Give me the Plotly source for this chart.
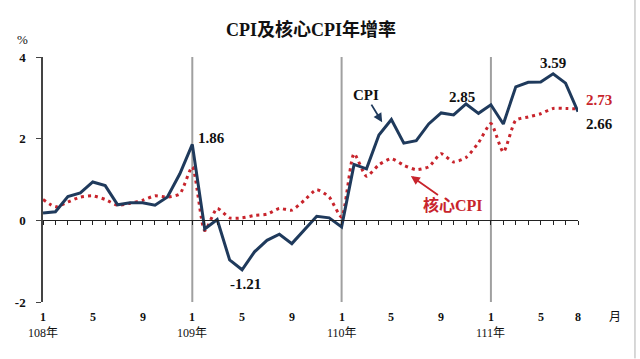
import plotly.graph_objects as go

# Data: monthly year-over-year growth (%), 108年1月 to 111年8月
cpi = [0.18, 0.21, 0.58, 0.67, 0.94, 0.85, 0.38, 0.43, 0.43, 0.37, 0.57, 1.14,
       1.86, -0.21, 0.02, -0.97, -1.21, -0.77, -0.49, -0.34, -0.57, -0.24, 0.10, 0.06,
       -0.16, 1.37, 1.26, 2.09, 2.47, 1.89, 1.95, 2.36, 2.63, 2.58, 2.85, 2.62,
       2.83, 2.36, 3.27, 3.38, 3.39, 3.59, 3.36, 2.66]
core_cpi = [0.51, 0.33, 0.45, 0.57, 0.60, 0.51, 0.37, 0.42, 0.49, 0.60, 0.57, 0.65,
            1.31, -0.25, 0.29, 0.06, 0.06, 0.12, 0.15, 0.29, 0.25, 0.49, 0.75, 0.57,
            0.08, 1.63, 1.08, 1.36, 1.51, 1.35, 1.24, 1.31, 1.63, 1.43, 1.54, 1.90,
            2.37, 1.67, 2.45, 2.53, 2.61, 2.74, 2.74, 2.73]
months = list(range(len(cpi)))
month_tick_pos = [0, 4, 8, 12, 16, 20, 24, 28, 32, 36, 40, 43]
month_tick_text = ["1", "5", "9", "1", "5", "9", "1", "5", "9", "1", "5", "8"]
year_pos = [0, 12, 24, 36]
year_text = ["108年", "109年", "110年", "111年"]
y_ticks = [-2, 0, 2, 4]
y_tick_text = ["-2", "0", "2", "4"]

NAVY = "#1F3A5C"
RED = "#C8242C"
SERIF = "'Liberation Serif', 'Times New Roman', 'Noto Sans CJK TC', serif"

fig = go.Figure()
fig.add_trace(go.Scatter(x=months, y=core_cpi, mode="lines", name="核心CPI",
                         line=dict(color=RED, width=3, dash="3px,4px",
                                   shape="spline", smoothing=0.6)))
fig.add_trace(go.Scatter(x=months, y=cpi, mode="lines", name="CPI",
                         line=dict(color=NAVY, width=3)))

shapes = []
for yp in year_pos[1:]:
    shapes.append(dict(type="line", xref="x", yref="paper", x0=yp, x1=yp, y0=0, y1=1,
                       line=dict(color="#A0A0A0", width=2), layer="below"))
# thin frame line at the right edge of the picture
shapes.append(dict(type="line", xref="paper", yref="paper", x0=1.1065, x1=1.1065, y0=-0.23, y1=1.233,
                   line=dict(color="#B0B0B0", width=1)))

ann = []
for pos, txt in zip(month_tick_pos, month_tick_text):
    ann.append(dict(x=pos, y=-0.062, xref="x", yref="paper", text=txt, showarrow=False,
                    xanchor="center", yanchor="middle",
                    font=dict(family=SERIF, size=12, color="#111", weight="bold")))
for pos, txt in zip(year_pos, year_text):
    ann.append(dict(x=pos, y=-0.128, xref="x", yref="paper", text=txt, showarrow=False,
                    xanchor="center", yanchor="middle",
                    font=dict(family=SERIF, size=12, color="#111")))
ann.append(dict(x=1.069, y=-0.062, xref="paper", yref="paper", text="月", showarrow=False,
                xanchor="center", yanchor="middle",
                font=dict(family=SERIF, size=12, color="#111")))
ann.append(dict(x=-0.038, y=1.072, xref="paper", yref="paper", text="%", showarrow=False,
                xanchor="center", yanchor="middle",
                font=dict(family=SERIF, size=13, color="#111")))

label_font = dict(family=SERIF, size=15, color="#111", weight="bold")
# value labels
ann.append(dict(x=12, y=cpi[12], text="1.86", showarrow=False, xshift=19, yshift=6, font=label_font))
ann.append(dict(x=16, y=cpi[16], text="-1.21", showarrow=False, xshift=3, yshift=-14, font=label_font))
ann.append(dict(x=34, y=cpi[34], text="2.85", showarrow=False, xshift=-4, yshift=7, font=label_font))
ann.append(dict(x=41, y=cpi[41], text="3.59", showarrow=False, xshift=0, yshift=11, font=label_font))
ann.append(dict(x=43, y=core_cpi[43], text="2.73", showarrow=False, xshift=21, yshift=9,
                font=dict(family=SERIF, size=15, color=RED, weight="bold")))
ann.append(dict(x=43, y=cpi[43], text="2.66", showarrow=False, xshift=21, yshift=-12, font=label_font))
# series name labels with arrows
ann.append(dict(x=27.3, y=2.38, text="CPI", showarrow=True, ax=-17, ay=-28,
                arrowhead=2, arrowsize=1, arrowwidth=1.8, arrowcolor=NAVY, standoff=1,
                font=dict(family=SERIF, size=15, color="#111", weight="bold")))
ann.append(dict(x=29.5, y=1.10, text="核心CPI", showarrow=True, ax=43, ay=30,
                arrowhead=2, arrowsize=1, arrowwidth=1.8, arrowcolor=RED, standoff=1,
                font=dict(family=SERIF, size=16, color=RED, weight="bold")))

fig.update_layout(
    width=640, height=359,
    margin=dict(l=43, r=62, t=57, b=57),
    paper_bgcolor="white", plot_bgcolor="white",
    showlegend=False,
    title=dict(text="CPI及核心CPI年增率", x=0.486, y=0.916, xanchor="center", yanchor="middle",
               font=dict(family=SERIF, size=18, color="#111", weight="bold")),
    xaxis=dict(range=[0, 43], anchor="free", position=1/3, showline=True, linecolor="#222",
               linewidth=1.2, ticks="outside", tickvals=months, ticklen=4, tickcolor="#222",
               showticklabels=False, showgrid=False, zeroline=False),
    yaxis=dict(range=[-2, 4], tickvals=y_ticks, ticktext=y_tick_text, showline=True,
               linecolor="#444", linewidth=1.5,
               ticks="outside", ticklen=5, tickcolor="#444", showgrid=False, zeroline=False,
               ticklabelstandoff=8,
               tickfont=dict(family=SERIF, size=13, color="#111", weight="bold")),
    shapes=shapes,
    annotations=ann,
)

fig.write_html("out.html")
